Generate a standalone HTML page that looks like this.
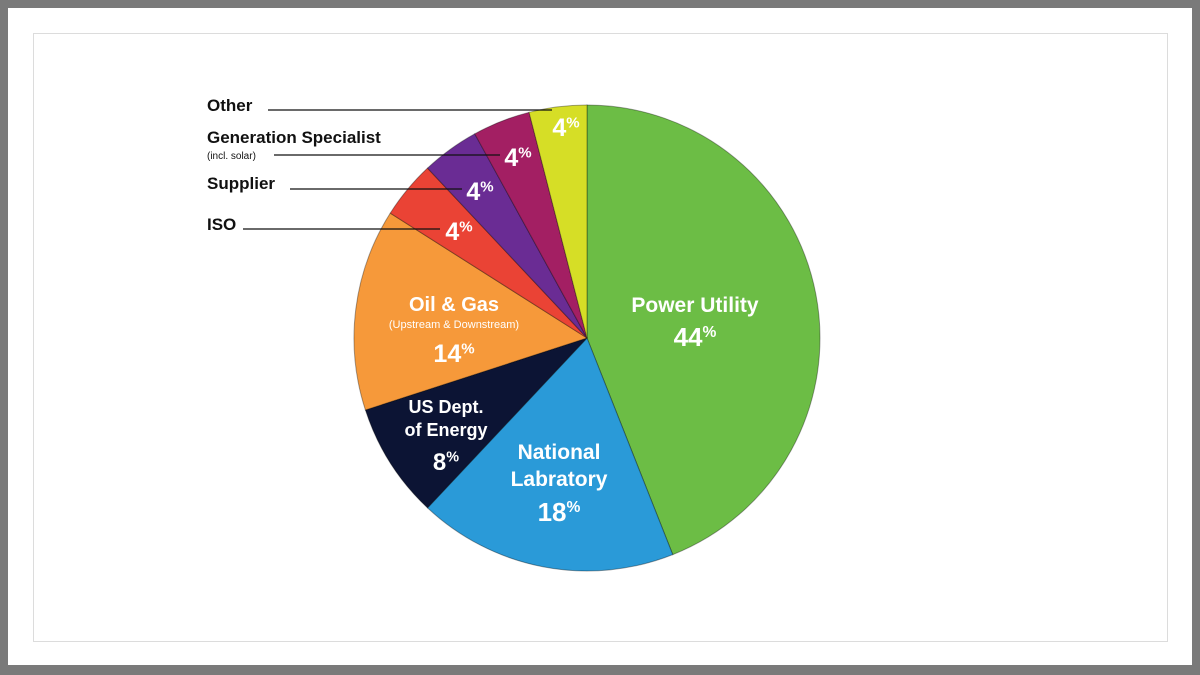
<!DOCTYPE html>
<html><head><meta charset="utf-8"><style>
html,body{margin:0;padding:0;}
body{width:1200px;height:675px;background:#7a7a7a;position:relative;overflow:hidden;font-family:"Liberation Sans",sans-serif;}
#card{position:absolute;left:8px;top:8px;width:1184px;height:657px;background:#fff;}
#inner{position:absolute;left:33px;top:33px;width:1133px;height:607px;border:1px solid #dcdcdc;background:#fff;}
svg{position:absolute;left:0;top:0;}
</style></head><body>
<div id="card"></div>
<div id="inner"></div>
<svg id="chart" width="1200" height="675"></svg>
<script>
const categories=["Power Utility","National Labratory","US Dept. of Energy","Oil & Gas","ISO","Supplier","Generation Specialist","Other"];
const values=[44,18,8,14,4,4,4,4];
const colors=["#6cbd45","#2a9ad8","#0c1434","#f6993a","#ea4335","#6a2c94","#a31f63","#d6de26"];
const cx=587,cy=338,R=233;
const NS="http://www.w3.org/2000/svg";
const svg=document.getElementById('chart');
const total=values.reduce((a,b)=>a+b,0);
function pt(a,r){return [cx+r*Math.sin(a),cy-r*Math.cos(a)];}
function mk(tag,attrs){const e=document.createElementNS(NS,tag);for(const k in attrs)e.setAttribute(k,attrs[k]);svg.appendChild(e);return e;}
let acc=0;const mids=[];
values.forEach((v,i)=>{
  const a0=acc/total*2*Math.PI;acc+=v;const a1=acc/total*2*Math.PI;
  const p0=pt(a0,R),p1=pt(a1,R);const large=(a1-a0)>Math.PI?1:0;
  const p=mk('path',{d:`M${cx},${cy}L${p0[0]},${p0[1]}A${R},${R} 0 ${large} 1 ${p1[0]},${p1[1]}Z`,fill:colors[i],stroke:"rgba(0,0,0,0.35)","stroke-width":"1"});
  
  
  mids.push((a0+a1)/2);
});
function txt(x,y,s,size,w,fill,anchor,name){
  const t=mk('text',{x:x,y:y,"font-size":size,"font-weight":w,fill:fill,"text-anchor":anchor||"middle","font-family":"Liberation Sans, sans-serif"});
  t.textContent=s;
  
  
  return t;
}
function pct(x,y,v,size,name){
  const t=mk('text',{x:x,y:y,"font-size":size,"font-weight":"bold",fill:"#fff","text-anchor":"middle","font-family":"Liberation Sans, sans-serif"});
  
  
  const a=document.createElementNS(NS,'tspan');a.textContent=v;t.appendChild(a);
  const b=document.createElementNS(NS,'tspan');b.textContent='%';b.setAttribute('font-size',size*0.6);b.setAttribute('dy',-size*0.35);t.appendChild(b);
}
// inside labels
txt(695,312,"Power Utility",21,"bold","#fff","middle","label-power-utility");
pct(695,346,values[0],26,"value-power-utility");
txt(559,459,"National",21,"bold","#fff","middle","label-national-lab");
txt(559,486,"Labratory",21,"bold","#fff","middle","label-national-lab-2");
pct(559,521,values[1],26,"value-national-lab");
txt(446,413,"US Dept.",18,"bold","#fff","middle","label-doe");
txt(446,436,"of Energy",18,"bold","#fff","middle","label-doe-2");
pct(446,470,values[2],24,"value-doe");
txt(454,311,"Oil & Gas",20,"bold","#fff","middle","label-oil-gas");
txt(454,328,"(Upstream & Downstream)",11,"normal","#fff","middle","label-oil-gas-sub");
pct(454,362,values[3],25,"value-oil-gas");
pct(459,240,values[4],25,"value-iso");
pct(480,200,values[5],25,"value-supplier");
pct(518,166,values[6],25,"value-gen-spec");
pct(566,136,values[7],25,"value-other");
// outside labels & leader lines
const L=[["Other",207,110,268,552,110],["Generation Specialist",207,143,0,0,0],["ISO",207,230,243,440,229],["Supplier",207,189,290,462,189]];
txt(207,111,"Other",17,"bold","#111","start","label-other");
txt(207,143,"Generation Specialist",17,"bold","#111","start","label-gen-spec");
txt(207,159,"(incl. solar)",10,"normal","#111","start","label-gen-spec-sub");
txt(207,189,"Supplier",17,"bold","#111","start","label-supplier");
txt(207,230,"ISO",17,"bold","#111","start","label-iso");
[[268,110,552,"leader-other"],[274,155,500,"leader-gen-spec"],[290,189,462,"leader-supplier"],[243,229,440,"leader-iso"]].forEach(l=>{
  const e=mk('line',{x1:l[0],y1:l[1],x2:l[2],y2:l[1],stroke:"#111","stroke-width":"1.3"});
  
  
});
</script>
</body></html>
